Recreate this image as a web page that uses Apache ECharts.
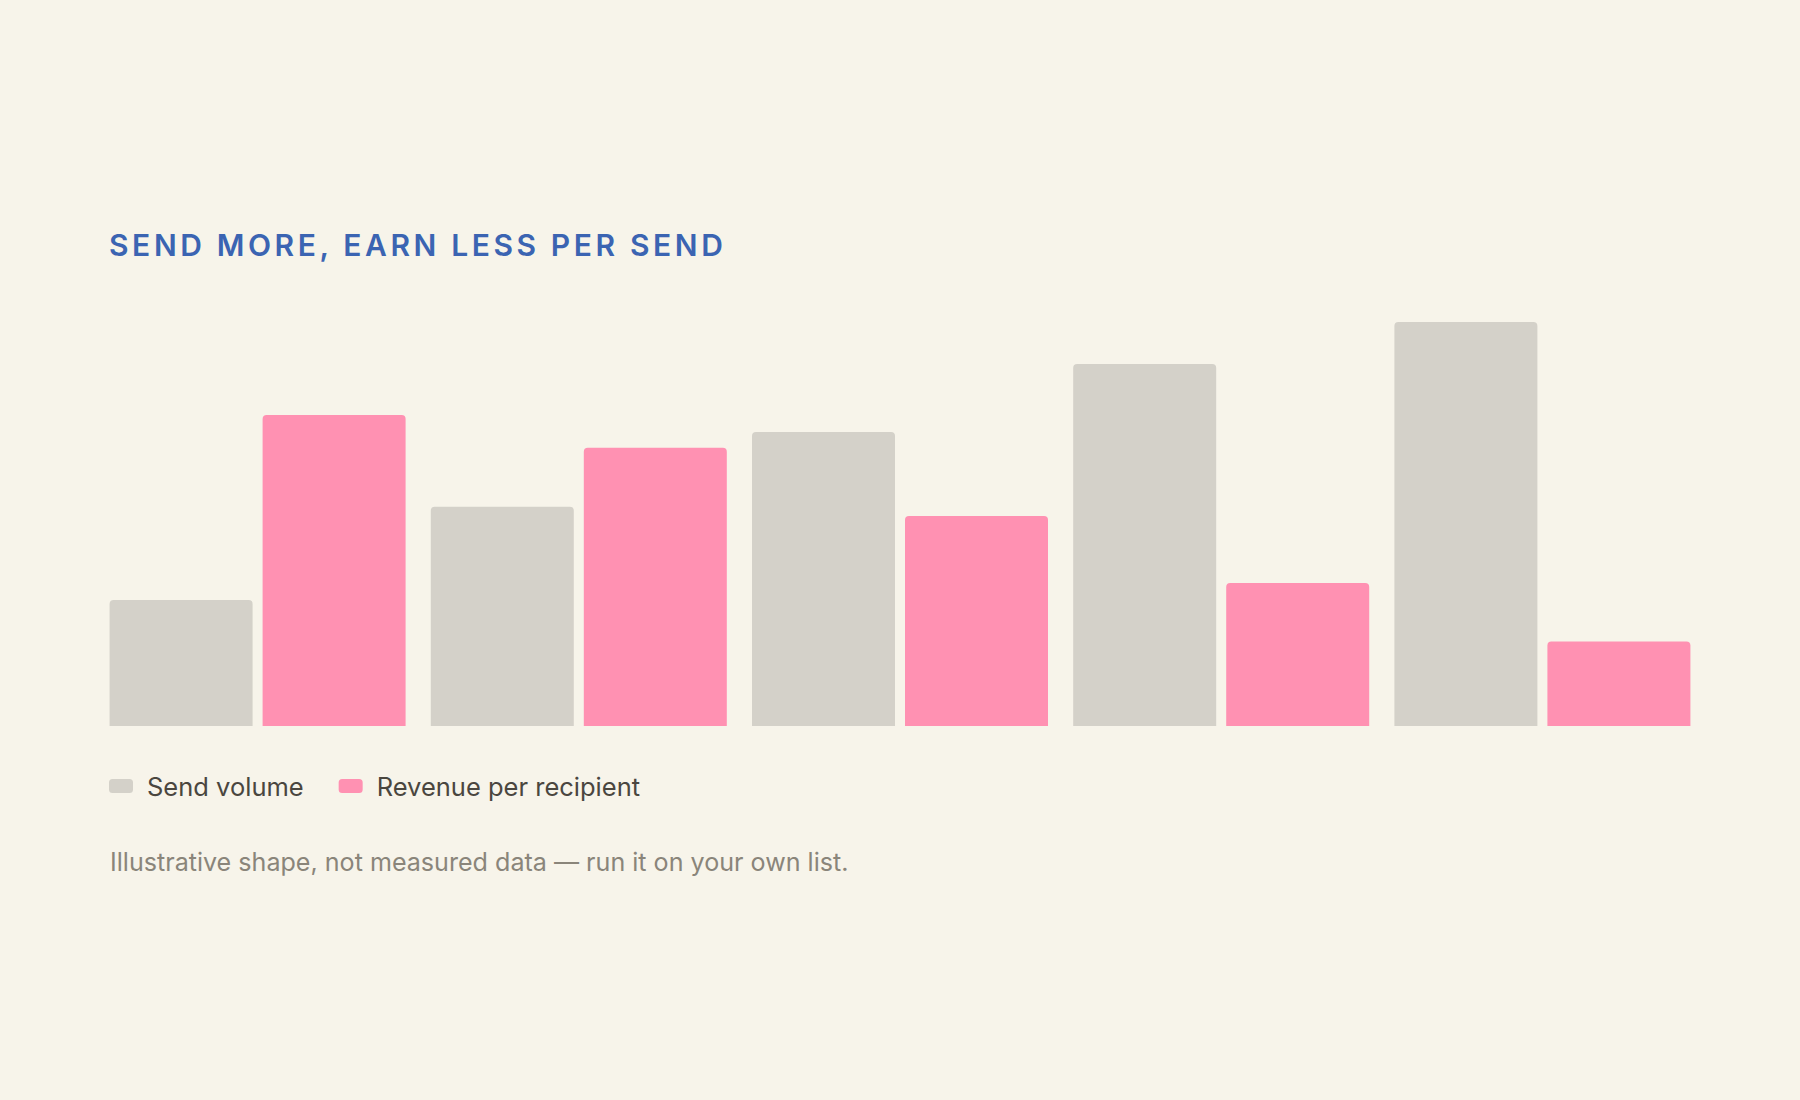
<!DOCTYPE html>
<html>
<head>
<meta charset="utf-8">
<title>Send more, earn less per send</title>
<script src="https://cdn.jsdelivr.net/npm/echarts@6/dist/echarts.min.js"></script>
<style>
  html, body { margin: 0; padding: 0; background: #f7f4ea; }
  #chart { width: 1800px; height: 1100px; }
</style>
</head>
<body>
<div id="chart"></div>
<script>
var chart = echarts.init(document.getElementById('chart'), null, { renderer: 'svg' });

// illustrative data (0-100 scale)
var categories = ['1', '2', '3', '4', '5'];
var sendVolume = [31.2, 54.3, 72.8, 89.6, 100];
var revenuePerRecipient = [77, 68.9, 52, 35.4, 20.9];
var seriesNames = ['Send volume', 'Revenue per recipient'];

var titleText = 'SEND MORE, EARN LESS PER SEND';
var greyBar = '#d4d1c9';
var pinkBar = '#ff91b2';
var font = 'Inter';

var option = {
    backgroundColor: '#f7f4ea',
    animation: false,
    title: {
        text: titleText,
        left: 104,
        top: 225,
        textStyle: {
            color: '#3b64b2',
            fontFamily: font,
            fontWeight: 600,
            fontSize: 30
        }
    },
    legend: {
        data: seriesNames,
        left: 109,
        top: 773,
        padding: 0,
        itemWidth: 24,
        itemHeight: 14,
        itemGap: 35,
        icon: 'roundRect',
        selectedMode: false,
        textStyle: {
            color: '#4a463f',
            fontFamily: font,
            fontSize: 25.5,
            padding: [0, 0, 0, 9]
        }
    },
    grid: {
        left: 97,
        right: 97,
        top: 322,
        bottom: 374
    },
    xAxis: {
        type: 'category',
        data: categories,
        axisLine: { show: false },
        axisTick: { show: false },
        axisLabel: { show: false },
        splitLine: { show: false }
    },
    yAxis: {
        type: 'value',
        min: 0,
        max: 100,
        show: false,
        splitLine: { show: false }
    },
    series: [
        {
            name: seriesNames[0],
            type: 'bar',
            data: sendVolume,
            barWidth: 143,
            barGap: '7%',
            itemStyle: {
                color: greyBar,
                borderRadius: [4, 4, 0, 0]
            }
        },
        {
            name: seriesNames[1],
            type: 'bar',
            data: revenuePerRecipient,
            barWidth: 143,
            itemStyle: {
                color: pinkBar,
                borderRadius: [4, 4, 0, 0]
            }
        }
    ],
    graphic: [
        {
            type: 'text',
            left: 110,
            top: 849,
            style: {
                text: 'Illustrative shape, not measured data \u2014 run it on your own list.',
                fill: '#8a857a',
                font: '25.1px Inter'
            }
        }
    ]
};

chart.setOption(option);

// echarts has no letterSpacing option, so set it on the svg title text
function spaceTitle() {
    var texts = document.querySelectorAll('#chart svg text');
    for (var i = 0; i < texts.length; i++) {
        if (texts[i].textContent === titleText) {
            texts[i].setAttribute('letter-spacing', '3.6');
        }
    }
}
spaceTitle();
chart.on('finished', spaceTitle);
</script>
</body>
</html>
